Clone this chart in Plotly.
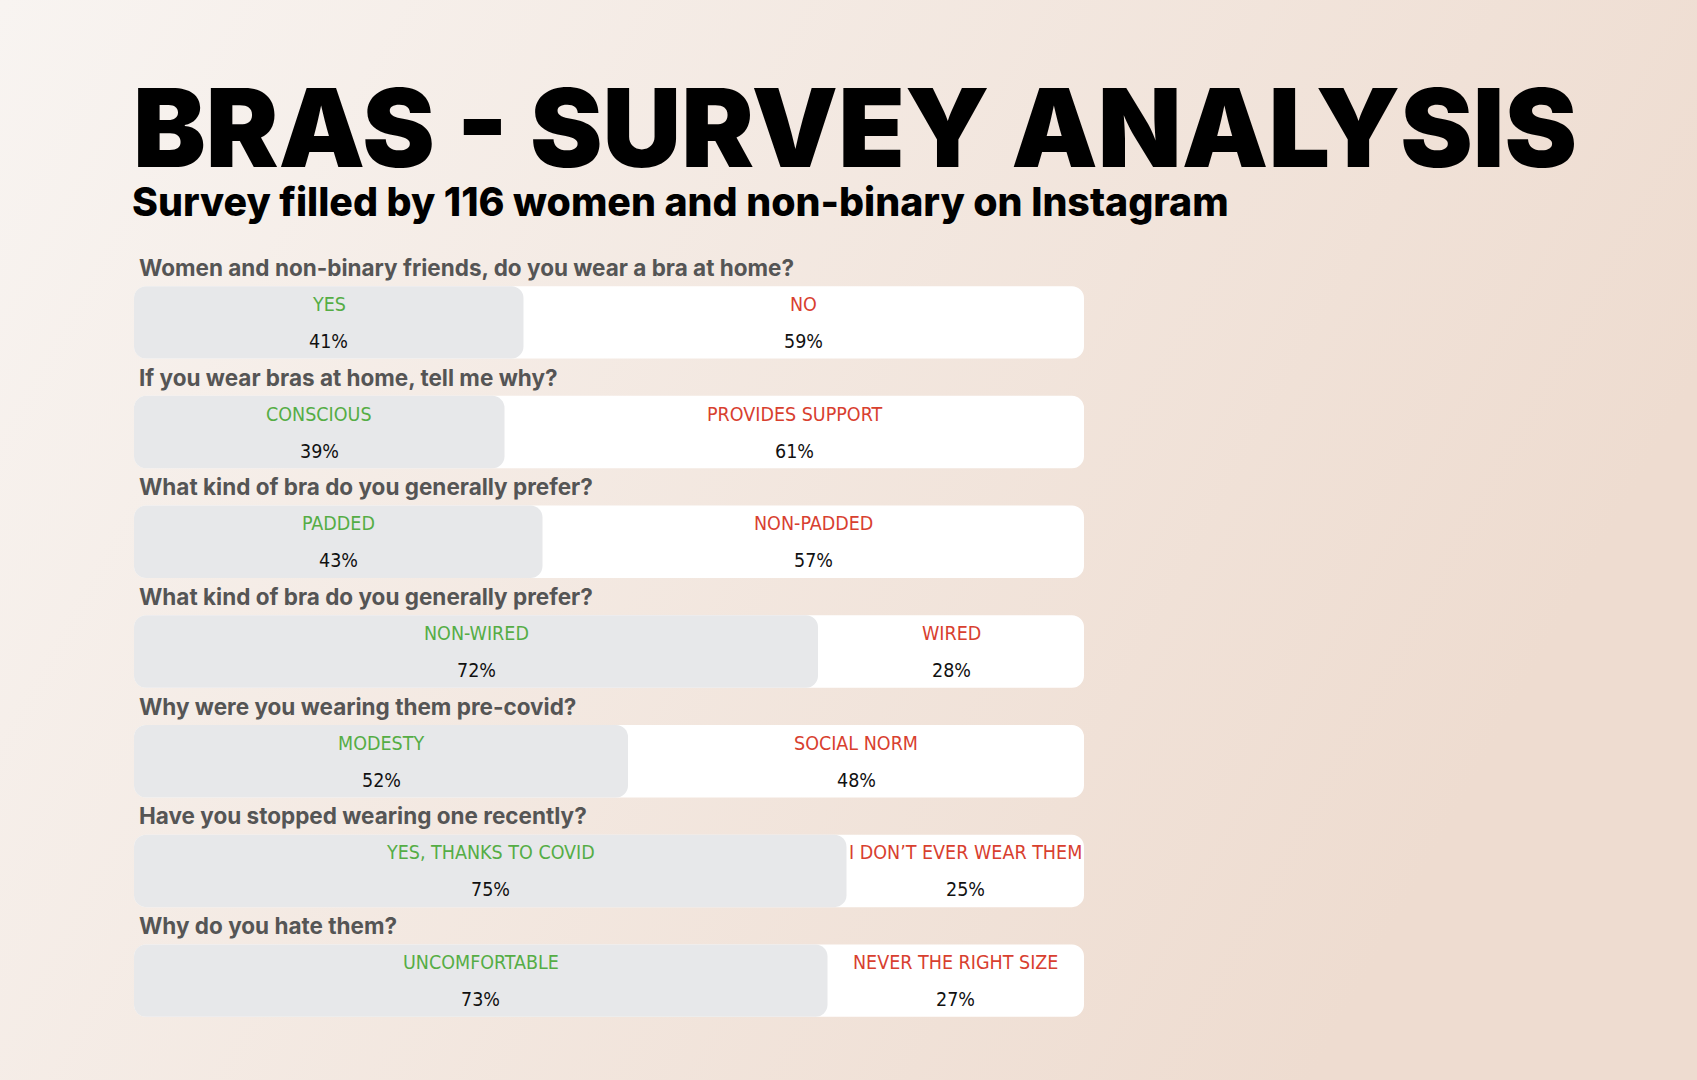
import base64
import plotly.graph_objects as go

# ---------------- data ----------------
title_text = "BRAS - SURVEY ANALYSIS"
subtitle_text = "Survey filled by 116 women and non-binary on Instagram"
questions = [
    "Women and non-binary friends, do you wear a bra at home?",
    "If you wear bras at home, tell me why?",
    "What kind of bra do you generally prefer?",
    "What kind of bra do you generally prefer?",
    "Why were you wearing them pre-covid?",
    "Have you stopped wearing one recently?",
    "Why do you hate them?",
]
left_labels = ["YES", "CONSCIOUS", "PADDED", "NON-WIRED", "MODESTY",
               "YES, THANKS TO COVID", "UNCOMFORTABLE"]
right_labels = ["NO", "PROVIDES SUPPORT", "NON-PADDED", "WIRED", "SOCIAL NORM",
                "I DON’T EVER WEAR THEM", "NEVER THE RIGHT SIZE"]
left_pct = [41, 39, 43, 72, 52, 75, 73]
right_pct = [59, 61, 57, 28, 48, 25, 27]

# ---------------- style ----------------
W, H = 1697, 1080
GRAY = "#e7e8ea"
WHITE = "#ffffff"
GREEN = "#55ad45"
RED = "#d8402f"
QCOL = "#555555"
LABEL_FONT = "Liberation Sans Narrow, DejaVu Sans Condensed, Roboto, sans-serif"
HEAD_FONT = "Inter, Roboto, sans-serif"
RADIUS = 12
BAR_W = 0.66

rows = list(range(len(questions)))
totals = [l + r for l, r in zip(left_pct, right_pct)]
zeros = [0] * len(rows)

fig = go.Figure()
# explicit base -> plotly rounds all four corners
fig.add_trace(go.Bar(y=rows, x=totals, base=zeros, orientation="h", width=BAR_W,
                     marker=dict(color=WHITE, line=dict(width=0), cornerradius=RADIUS),
                     hoverinfo="skip", showlegend=False))
fig.add_trace(go.Bar(y=rows, x=left_pct, base=zeros, orientation="h", width=BAR_W,
                     marker=dict(color=GRAY, line=dict(width=0), cornerradius=RADIUS),
                     hoverinfo="skip", showlegend=False))

ann = []
for i, q in enumerate(questions):
    ann.append(dict(x=0, y=i, xref="x", yref="y", text=f"<b>{q}</b>", showarrow=False,
                    xanchor="left", yanchor="middle", xshift=3, yshift=55,
                    font=dict(family=HEAD_FONT, size=22.5, color=QCOL)))
    lc = left_pct[i] / 2
    rc = left_pct[i] + right_pct[i] / 2
    ann.append(dict(x=lc, y=i, xref="x", yref="y", text=left_labels[i], showarrow=False,
                    yshift=18, font=dict(family=LABEL_FONT, size=19.5, color=GREEN)))
    ann.append(dict(x=lc, y=i, xref="x", yref="y", text=f"{left_pct[i]}%", showarrow=False,
                    yshift=-19, font=dict(family=LABEL_FONT, size=19.5, color="#111111")))
    ann.append(dict(x=rc, y=i, xref="x", yref="y", text=right_labels[i], showarrow=False,
                    yshift=18, font=dict(family=LABEL_FONT, size=19.5, color=RED)))
    ann.append(dict(x=rc, y=i, xref="x", yref="y", text=f"{right_pct[i]}%", showarrow=False,
                    yshift=-19, font=dict(family=LABEL_FONT, size=19.5, color="#111111")))

ann.append(dict(x=131 / W, y=1 - 127 / H, xref="paper", yref="paper", text=title_text,
                showarrow=False, xanchor="left", yanchor="middle",
                font=dict(family=HEAD_FONT, size=109, color="#000000", weight=900)))
ann.append(dict(x=130 / W, y=1 - 202 / H, xref="paper", yref="paper", text=subtitle_text,
                showarrow=False, xanchor="left", yanchor="middle",
                font=dict(family=HEAD_FONT, size=39.3, color="#000000", weight=800)))

svg = (
    '<svg xmlns="http://www.w3.org/2000/svg" width="1697" height="1080">'
    '<defs><linearGradient id="g" x1="0" y1="0" x2="1" y2="0.35">'
    '<stop offset="0" stop-color="#f8f4f1"/>'
    '<stop offset="1" stop-color="#eedcd0"/>'
    '</linearGradient></defs>'
    '<rect width="1697" height="1080" fill="url(#g)"/></svg>'
)
bg_src = "data:image/svg+xml;base64," + base64.b64encode(svg.encode()).decode()

fig.update_layout(
    width=W, height=H,
    margin=dict(l=0, r=0, t=0, b=0),
    paper_bgcolor="#f3e8e0", plot_bgcolor="rgba(0,0,0,0)",
    barmode="overlay",
    xaxis=dict(domain=[134 / W, 1084 / W], range=[0, 100], visible=False, fixedrange=True),
    yaxis=dict(domain=[1 - 1035.5 / H, 1 - 267.5 / H], range=[len(rows) - 0.5, -0.5],
               visible=False, fixedrange=True),
    annotations=ann,
    images=[dict(source=bg_src, xref="paper", yref="paper", x=0, y=1, sizex=1, sizey=1,
                 sizing="stretch", xanchor="left", yanchor="top", layer="below")],
)

fig.write_html("out.html")
